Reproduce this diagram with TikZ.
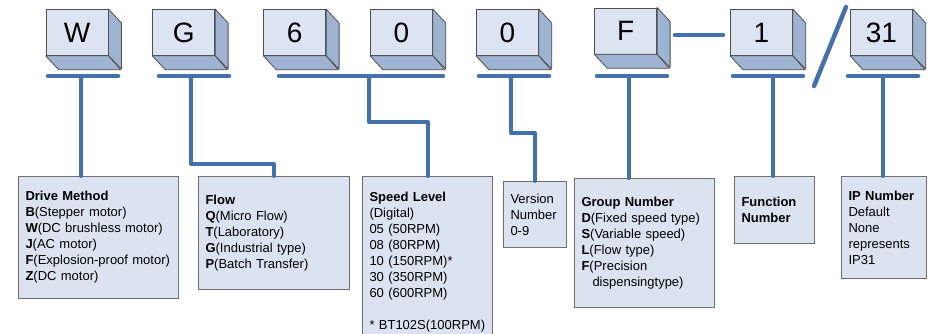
\documentclass[tikz,border=0pt]{standalone}
\usepackage{fontspec}
\setmainfont{Liberation Sans}
\definecolor{capfront}{RGB}{221,228,241}
\definecolor{capside}{RGB}{157,179,209}
\definecolor{capedge}{RGB}{80,80,80}
\definecolor{leadblue}{RGB}{69,113,170}
\definecolor{boxfill}{RGB}{220,227,240}
\definecolor{boxedge}{RGB}{110,110,110}
\tikzset{
  keycap/.style={draw=capedge,fill=capfront,line width=0.8pt,minimum width=62pt,minimum height=46pt,inner sep=0pt,anchor=north west,font=\fontsize{28}{28}\selectfont},
  capface/.style={draw=capedge,fill=capside,line width=0.8pt,line join=round},
  bar/.style={draw=leadblue,line width=4.5pt,line cap=round},
  lead/.style={draw=leadblue,line width=4pt,line cap=round,line join=round},
  infobox/.style={draw=boxedge,fill=boxfill,line width=1pt,anchor=north west,align=left,inner xsep=7pt,inner ysep=0pt,font=\fontsize{13}{16}\selectfont}
}
\begin{document}
\begin{tikzpicture}[x=1pt,y=-1pt]
\useasboundingbox (0,0) rectangle (932,333);
% code keys
\foreach \x/\y/\t/\n in {45.7/9/W/kW, 152.3/9/G/kG, 263.3/9/6/k6, 370/9/0/k0, 476/9/0/kv, 594.3/7.5/F/kF, 730/9/1/k1, 850/9/31/k31}{
  \node[keycap] (\n) at (\x,\y) {\t};
  \draw[capface] (\n.north east) -- ++(13,14) -- ++(0,46) -- (\n.south east) -- cycle;
  \draw[capface] (\n.south west) -- ++(13,14) -- ++(62,0) -- (\n.south east) -- cycle;
}
\draw[bar] (675,35) -- (723,35);
\draw[bar] (846,7) -- (814,86);
% bars under the keys
\foreach \a/\b/\m/\n in {48/118/81/tW, 159/229/191/tG, 279/443/369/t60, 479/549/511/t0, 597/667/629/tF, 733/803/773/t1, 848/918/883/t31}{
  \draw[bar] (\a,76) -- (\b,76);
  \coordinate (\n) at (\m,76);
}
% description boxes
\node[infobox,text width=146pt,minimum height=122pt] (drive) at (18,176) {\textbf{Drive Method}\\\textbf{B}(Stepper motor)\\\textbf{W}(DC brushless motor)\\\textbf{J}(AC motor)\\\textbf{F}(Explosion-proof motor)\\\textbf{Z}(DC motor)};
\node[infobox,text width=137pt,minimum height=113pt] (flow) at (198,176) {\textbf{Flow}\\\textbf{Q}(Micro Flow)\\\textbf{T}(Laboratory)\\\textbf{G}(Industrial type)\\\textbf{P}(Batch Transfer)};
\node[infobox,text width=116pt,minimum height=171pt] (speed) at (362,176) {\textbf{Speed Level}\\(Digital)\\05 (50RPM)\\08 (80RPM)\\10 (150RPM)*\\30 (350RPM)\\60 (600RPM)\\[16pt]* BT102S(100RPM)};
\node[infobox,text width=49pt,minimum height=66pt] (version) at (503,181) {Version\\Number\\0-9};
\node[infobox,text width=126pt,minimum height=129pt] (group) at (574,178) {\textbf{Group Number}\\\textbf{D}(Fixed speed type)\\\textbf{S}(Variable speed)\\\textbf{L}(Flow type)\\\textbf{F}(Precision\\\hspace*{11pt}dispensingtype)};
\node[infobox,text width=66pt,minimum height=67pt] (func) at (734,176) {\textbf{Function}\\\textbf{Number}};
\node[infobox,text width=71pt,minimum height=102pt] (ip) at (841,176) {\textbf{IP Number}\\Default\\None\\represents\\IP31};
% leads
\draw[lead] (tW) -- (tW |- drive.north);
\draw[lead] (tG) |- ([yshift=12pt]flow.north) -- (flow.north);
\draw[lead] (t60) |- ([yshift=54pt]speed.north) -- (speed.north);
\draw[lead] (t0) |- ([yshift=48pt]version.north) -- (version.north);
\draw[lead] (tF) -- (tF |- group.north);
\draw[lead] (t1) -- (t1 |- func.north);
\draw[lead] (t31) -- (t31 |- ip.north);
\end{tikzpicture}
\end{document}
